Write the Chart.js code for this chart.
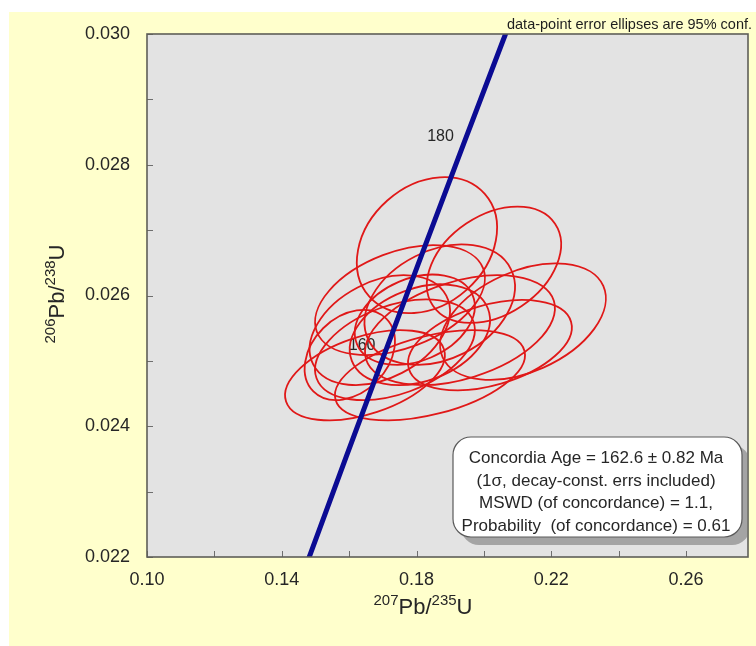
<!DOCTYPE html>
<html>
<head>
<meta charset="utf-8">
<script src="https://cdn.jsdelivr.net/npm/chart.js@4.4.0/dist/chart.umd.min.js"></script>
<style>
  html, body { margin: 0; padding: 0; background: #fff; }
</style>
</head>
<body>
<canvas id="concordia" width="756" height="646"></canvas>
<script>
// Axis limits
const X_MIN = 0.10, X_MAX = 0.2784;
const Y_MIN = 0.022, Y_MAX = 0.030;
const xTickLabels = ['0.10', '0.14', '0.18', '0.22', '0.26'];
const yTickLabels = ['0.022', '0.024', '0.026', '0.028', '0.030'];

// Concordia curve, sampled every 10 Ma
const curveAges = [140, 150, 160, 170, 180, 190, 200];
const curveX = [0.14784, 0.15920, 0.17067, 0.18226, 0.19396, 0.20577, 0.21771];
const curveY = [0.021955, 0.023542, 0.025131, 0.026722, 0.028316, 0.029912, 0.031511];
const labelledAges = [160, 180];

// Spot analyses: centre, 95% half-widths and error correlation
const spotX    = [0.1831, 0.2030, 0.2116, 0.1751, 0.1869, 0.1691, 0.1929, 0.2018, 0.1647, 0.1840, 0.1736, 0.1810, 0.1602, 0.1795];
const spotY    = [0.02677, 0.02647, 0.02560, 0.02593, 0.02586, 0.02547, 0.02547, 0.02524, 0.02478, 0.02478, 0.02517, 0.02540, 0.02509, 0.02563];
const spotErrX = [0.0208, 0.0199, 0.0246, 0.0252, 0.0223, 0.0208, 0.0282, 0.0243, 0.0237, 0.0282, 0.0237, 0.0208, 0.0134, 0.0178];
const spotErrY = [0.00104, 0.00089, 0.00089, 0.00084, 0.00092, 0.00084, 0.00084, 0.00069, 0.00069, 0.00069, 0.00077, 0.00077, 0.00069, 0.00069];
const spotRho  = [0.25, 0.35, 0.40, 0.40, 0.30, 0.35, 0.40, 0.40, 0.45, 0.45, 0.40, 0.30, 0.30, 0.30];

const FONT = '"Liberation Sans", Arial, sans-serif';
const PAPER = '#FFFFCC';
const PLOT_BG = '#E3E3E3';
const FRAME = '#5E5E58';
const TICK = '#6E6E6E';
const INK = '#262626';
const CURVE_BLUE = '#0B0B93';
const ELLIPSE_RED = '#E01818';

function onStep(v, step) {
  return Math.abs(v / step - Math.round(v / step)) < 1e-6;
}

function roundRect(ctx, x, y, w, h, r) {
  ctx.beginPath();
  ctx.moveTo(x + r, y);
  ctx.arcTo(x + w, y, x + w, y + h, r);
  ctx.arcTo(x + w, y + h, x, y + h, r);
  ctx.arcTo(x, y + h, x, y, r);
  ctx.arcTo(x, y, x + w, y, r);
  ctx.closePath();
}

// isotope ratio label with superscript mass numbers, centred on x
function drawRatio(ctx, parts, x, y, size, supSize) {
  let total = 0;
  parts.forEach(([t, sup]) => {
    ctx.font = `${sup ? supSize : size}px ${FONT}`;
    total += ctx.measureText(t).width;
  });
  let cx = x - total / 2;
  ctx.textAlign = 'left';
  ctx.textBaseline = 'alphabetic';
  parts.forEach(([t, sup]) => {
    ctx.font = `${sup ? supSize : size}px ${FONT}`;
    ctx.fillText(t, cx, sup ? y - size * 0.4 : y);
    cx += ctx.measureText(t).width;
  });
}

const backdrop = {
  id: 'backdrop',
  beforeDraw(chart) {
    const { ctx, chartArea: a } = chart;
    ctx.save();
    ctx.fillStyle = '#fff';
    ctx.fillRect(0, 0, chart.width, chart.height);
    ctx.fillStyle = PAPER;
    ctx.fillRect(9, 12, chart.width - 9, chart.height - 12);
    ctx.fillStyle = PLOT_BG;
    ctx.fillRect(a.left, a.top, a.right - a.left, a.bottom - a.top);
    ctx.restore();
  }
};

const errorEllipses = {
  id: 'errorEllipses',
  beforeDatasetsDraw(chart) {
    const { ctx, chartArea: a, scales: { x: xs, y: ys } } = chart;
    ctx.save();
    ctx.beginPath();
    ctx.rect(a.left, a.top, a.right - a.left, a.bottom - a.top);
    ctx.clip();

    // age ticks on the concordia sit underneath the ellipses
    ctx.fillStyle = INK;
    ctx.font = `16px ${FONT}`;
    ctx.textAlign = 'center';
    ctx.textBaseline = 'middle';
    labelledAges.forEach(age => {
      const i = curveAges.indexOf(age);
      ctx.fillText(String(age), xs.getPixelForValue(curveX[i]) - 23, ys.getPixelForValue(curveY[i]) - 7);
    });

    ctx.strokeStyle = ELLIPSE_RED;
    ctx.lineWidth = 1.8;
    spotX.forEach((x, i) => {
      const cx = xs.getPixelForValue(x);
      const cy = ys.getPixelForValue(spotY[i]);
      const ax = Math.abs(xs.getPixelForValue(x + spotErrX[i]) - cx);
      const ay = Math.abs(ys.getPixelForValue(spotY[i] + spotErrY[i]) - cy);
      // covariance in screen space (y grows downward, so rho flips sign)
      const c11 = ax * ax, c22 = ay * ay, c12 = -spotRho[i] * ax * ay;
      const mid = (c11 + c22) / 2;
      const d = Math.sqrt(((c11 - c22) / 2) ** 2 + c12 * c12);
      const theta = 0.5 * Math.atan2(2 * c12, c11 - c22);
      ctx.beginPath();
      ctx.ellipse(cx, cy, Math.sqrt(mid + d), Math.sqrt(Math.max(mid - d, 0)), theta, 0, Math.PI * 2);
      ctx.stroke();
    });
    ctx.restore();
  }
};

const frame = {
  id: 'frame',
  afterDatasetsDraw(chart) {
    const { ctx, chartArea: a, scales: { x: xs, y: ys } } = chart;
    ctx.save();
    ctx.strokeStyle = TICK;
    ctx.lineWidth = 1;
    ctx.beginPath();
    xs.ticks.forEach(t => {
      if (!onStep(t.value, 0.02)) return;
      const px = Math.round(xs.getPixelForValue(t.value)) + 0.5;
      ctx.moveTo(px, a.bottom);
      ctx.lineTo(px, a.bottom - 6);
    });
    ys.ticks.forEach(t => {
      if (!onStep(t.value, 0.001)) return;
      const py = Math.round(ys.getPixelForValue(t.value)) + 0.5;
      ctx.moveTo(a.left, py);
      ctx.lineTo(a.left + 6, py);
    });
    ctx.stroke();
    ctx.strokeStyle = FRAME;
    ctx.lineWidth = 1.6;
    ctx.strokeRect(a.left, a.top, a.right - a.left, a.bottom - a.top);
    ctx.restore();
  }
};

const notes = {
  id: 'notes',
  afterDraw(chart) {
    const { ctx, chartArea: a } = chart;
    ctx.save();

    // result box with drop shadow
    const bx = 453, by = 437, bw = 289, bh = 100, r = 18;
    ctx.save();
    ctx.beginPath();
    ctx.rect(a.left, a.top, a.right - a.left - 1, a.bottom - a.top - 1);
    ctx.clip();
    ctx.fillStyle = '#A4A4A4';
    roundRect(ctx, bx + 8, by + 8, bw, bh, r);
    ctx.fill();
    ctx.restore();
    ctx.fillStyle = '#FFFFFF';
    ctx.strokeStyle = '#5A5A5A';
    ctx.lineWidth = 1.2;
    roundRect(ctx, bx, by, bw, bh, r);
    ctx.fill();
    ctx.stroke();

    const lines = [
      'Concordia Age = 162.6 \u00B1 0.82 Ma',
      '(1\u03C3, decay-const. errs included)',
      'MSWD (of concordance) = 1.1,',
      'Probability  (of concordance) = 0.61'
    ];
    ctx.fillStyle = INK;
    ctx.font = `17px ${FONT}`;
    ctx.textAlign = 'center';
    ctx.textBaseline = 'alphabetic';
    lines.forEach((t, i) => ctx.fillText(t, bx + 143, by + 26 + i * 22.7));

    // caption above the plot
    ctx.font = `14.5px ${FONT}`;
    ctx.textAlign = 'right';
    ctx.fillStyle = '#1E1E1E';
    ctx.fillText('data-point error ellipses are 95% conf.', 752, 29);

    // axis titles
    ctx.fillStyle = INK;
    drawRatio(ctx, [['207', true], ['Pb/', false], ['235', true], ['U', false]], 423, 614, 22, 15);
    ctx.translate(64, 294);
    ctx.rotate(-Math.PI / 2);
    drawRatio(ctx, [['206', true], ['Pb/', false], ['238', true], ['U', false]], 0, 0, 22, 15);
    ctx.restore();
  }
};

new Chart(document.getElementById('concordia'), {
  type: 'scatter',
  data: {
    datasets: [
      {
        label: 'Spots',
        data: spotX.map((x, i) => ({ x, y: spotY[i] })),
        pointRadius: 0,
        pointHoverRadius: 0,
      },
      {
        label: 'Concordia',
        type: 'line',
        data: curveX.map((x, i) => ({ x, y: curveY[i] })),
        borderColor: CURVE_BLUE,
        borderWidth: 5,
        pointRadius: 0,
        fill: false,
        tension: 0,
        clip: 0,
      },
    ],
  },
  options: {
    responsive: false,
    animation: false,
    events: [],
    layout: { padding: { top: 34, right: 8, left: 0, bottom: 0 } },
    plugins: {
      legend: { display: false },
      tooltip: { enabled: false },
    },
    scales: {
      x: {
        type: 'linear',
        min: X_MIN,
        max: X_MAX,
        afterFit: s => { s.height = 89; },
        grid: { display: false, drawTicks: false },
        border: { display: false },
        ticks: {
          stepSize: 0.02,
          includeBounds: false,
          autoSkip: false,
          maxRotation: 0,
          padding: 12,
          color: INK,
          font: { family: FONT, size: 18 },
          callback: v => {
            const s = Number(v).toFixed(2);
            return xTickLabels.includes(s) && onStep(v, 0.02) ? s : '';
          },
        },
      },
      y: {
        type: 'linear',
        min: Y_MIN,
        max: Y_MAX,
        afterFit: s => { s.width = 147; },
        grid: { display: false, drawTicks: false },
        border: { display: false },
        ticks: {
          stepSize: 0.001,
          autoSkip: false,
          padding: 17,
          color: INK,
          font: { family: FONT, size: 18 },
          callback: v => {
            const s = Number(v).toFixed(3);
            return yTickLabels.includes(s) && onStep(v, 0.002) ? s : '';
          },
        },
      },
    },
  },
  plugins: [backdrop, errorEllipses, frame, notes],
});
</script>
</body>
</html>
